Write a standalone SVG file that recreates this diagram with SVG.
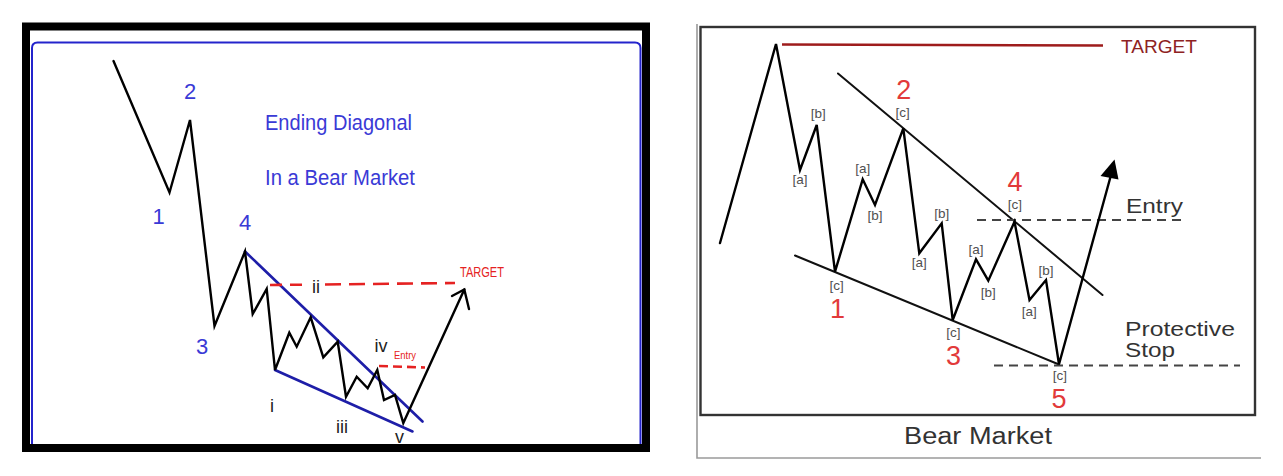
<svg xmlns="http://www.w3.org/2000/svg" width="1283" height="476" viewBox="0 0 1283 476">
<style>
.bg{fill:#ffffff}
.wave{fill:none;stroke:#000;stroke-width:2.4;stroke-linejoin:miter;stroke-linecap:round}
.bluetl{fill:none;stroke:#1e1ea8;stroke-width:2.6;stroke-linecap:round}
.reddash{fill:none;stroke:#e52222;stroke-width:2.6}
.bluetxt{font-family:"Liberation Sans",Arial,sans-serif;fill:#3a3ad6}
.roman{font-family:"Liberation Sans",Arial,sans-serif;fill:#222;font-size:18px;text-anchor:middle}
.redtxt{font-family:"Liberation Sans",Arial,sans-serif;fill:#e52222}
.tl{fill:none;stroke:#111;stroke-width:2;stroke-linecap:round}
.graydash{fill:none;stroke:#444;stroke-width:2;stroke-dasharray:9 6}
.sub{font-family:"Liberation Sans",Arial,sans-serif;fill:#505050;font-size:13.5px;text-anchor:middle}
.num{font-family:"Liberation Sans",Arial,sans-serif;fill:#e23a3a;font-size:27px;text-anchor:middle}
.dark{font-family:"Liberation Sans",Arial,sans-serif;fill:#333}
</style>
<rect class="bg" x="0" y="0" width="1283" height="476"/>

<g id="left-panel">
  <path d="M32,446 V48 Q32,42.5 37.5,42.5 H635 Q640.5,42.5 640.5,48 V446" fill="none" stroke="#2424cc" stroke-width="2"/>
  <g id="left-title">
    <text class="bluetxt" x="265" y="130" font-size="22" textLength="147" lengthAdjust="spacingAndGlyphs">Ending Diagonal</text>
    <text class="bluetxt" x="265" y="185" font-size="22" textLength="150" lengthAdjust="spacingAndGlyphs">In a Bear Market</text>
  </g>
  <g id="left-trendlines">
    <line class="bluetl" x1="245" y1="251.5" x2="422.5" y2="421.5"/>
    <line class="bluetl" x1="275" y1="370" x2="412.5" y2="431.5"/>
  </g>
  <g id="left-levels">
    <path class="reddash" d="M270,285 L302,284.7" stroke-dasharray="12 8"/>
    <path class="reddash" d="M325,284.5 L455,283" stroke-dasharray="16 8"/>
    <path class="reddash" d="M379,366 L425,367.5" stroke-dasharray="9 5"/>
    <text class="redtxt" x="460" y="277" font-size="14" textLength="44" lengthAdjust="spacingAndGlyphs">TARGET</text>
    <text class="redtxt" x="394" y="359" font-size="10" textLength="22" lengthAdjust="spacingAndGlyphs">Entry</text>
  </g>
  <g id="left-wave">
    <polyline class="wave" points="113.5,61 169.5,192.5 190,120 214.5,326 245,251.5 252.7,314 266.7,289 275,370 289.3,332.7 296.7,346.7 310.7,317.3 323.3,357.3 337.7,341.7 346,396.7 356.7,376.7 367.7,388.3 377.3,370 384,400 395,395 403.3,423 464.3,289.5"/>
    <polyline class="wave" points="452,296 464.3,289.5 469,309"/>
  </g>
  <g id="left-wave-labels">
    <text class="bluetxt" x="158.5" y="224" font-size="22" text-anchor="middle">1</text>
    <text class="bluetxt" x="190" y="99" font-size="22" text-anchor="middle">2</text>
    <text class="bluetxt" x="202" y="354" font-size="22" text-anchor="middle">3</text>
    <text class="bluetxt" x="245" y="230" font-size="22" text-anchor="middle">4</text>
    <text class="roman" x="272" y="412">i</text>
    <text class="roman" x="316" y="293">ii</text>
    <text class="roman" x="342" y="433">iii</text>
    <text class="roman" x="381" y="352">iv</text>
    <text class="roman" x="399.5" y="443">v</text>
  </g>
  <rect id="left-frame" x="26" y="26.5" width="620" height="421.5" fill="none" stroke="#000" stroke-width="8"/>
</g>

<g id="right-panel">
  <path d="M697,24 V458 H1261" fill="none" stroke="#9a9a9a" stroke-width="1.6"/>
  <rect id="right-frame" x="700.5" y="27" width="554.5" height="388" fill="none" stroke="#333" stroke-width="2.4"/>
  <g id="right-target">
    <line x1="782" y1="44.5" x2="1103" y2="45.5" stroke="#9e1c1c" stroke-width="2.4"/>
    <text x="1121" y="53" font-family="Liberation Sans, Arial, sans-serif" font-size="18" fill="#8e2222" textLength="76" lengthAdjust="spacingAndGlyphs">TARGET</text>
  </g>
  <g id="right-trendlines">
    <line class="tl" x1="838" y1="73.5" x2="1102.5" y2="295"/>
    <line class="tl" x1="795" y1="255.5" x2="1059" y2="364.5"/>
  </g>
  <g id="right-levels">
    <line class="graydash" x1="977" y1="220" x2="1182" y2="220"/>
    <line class="graydash" x1="994" y1="365.5" x2="1240" y2="365.5"/>
    <text class="dark" x="1126" y="212.5" font-size="21" textLength="57" lengthAdjust="spacingAndGlyphs">Entry</text>
    <text class="dark" x="1125" y="335.5" font-size="21" textLength="110" lengthAdjust="spacingAndGlyphs">Protective</text>
    <text class="dark" x="1125" y="356.5" font-size="21" textLength="50" lengthAdjust="spacingAndGlyphs">Stop</text>
  </g>
  <g id="right-wave">
    <polyline class="wave" points="720,243 776,44 800,170 816.7,125 835,271.7 862.7,179.3 875,205 903.3,128.3 919.3,253.3 941.7,223.3 952.7,320 976,259.3 988.3,280.7 1014.5,221.7 1029.5,300 1046,280 1059,364.3 1111,175"/>
    <polygon points="1114.5,159.5 1100.5,176 1118.5,179.5" fill="#000"/>
  </g>
  <g id="right-sub-labels">
    <text class="sub" x="818.3" y="117.5">[b]</text>
    <text class="sub" x="800" y="184">[a]</text>
    <text class="sub" x="902.7" y="117">[c]</text>
    <text class="sub" x="862.7" y="173">[a]</text>
    <text class="sub" x="875" y="220">[b]</text>
    <text class="sub" x="836.7" y="290">[c]</text>
    <text class="sub" x="941.7" y="217.5">[b]</text>
    <text class="sub" x="919.3" y="266.5">[a]</text>
    <text class="sub" x="976" y="254">[a]</text>
    <text class="sub" x="988.3" y="296.5">[b]</text>
    <text class="sub" x="953.3" y="336.5">[c]</text>
    <text class="sub" x="1015" y="209">[c]</text>
    <text class="sub" x="1046" y="275">[b]</text>
    <text class="sub" x="1029.3" y="315.5">[a]</text>
    <text class="sub" x="1060" y="380">[c]</text>
  </g>
  <g id="right-wave-labels">
    <text class="num" x="837.5" y="317.5">1</text>
    <text class="num" x="903.7" y="98.5">2</text>
    <text class="num" x="953.5" y="364.5">3</text>
    <text class="num" x="1015" y="191">4</text>
    <text class="num" x="1059" y="407.5">5</text>
  </g>
  <text class="dark" x="904" y="444" font-size="23" textLength="148" lengthAdjust="spacingAndGlyphs">Bear Market</text>
</g>
</svg>
